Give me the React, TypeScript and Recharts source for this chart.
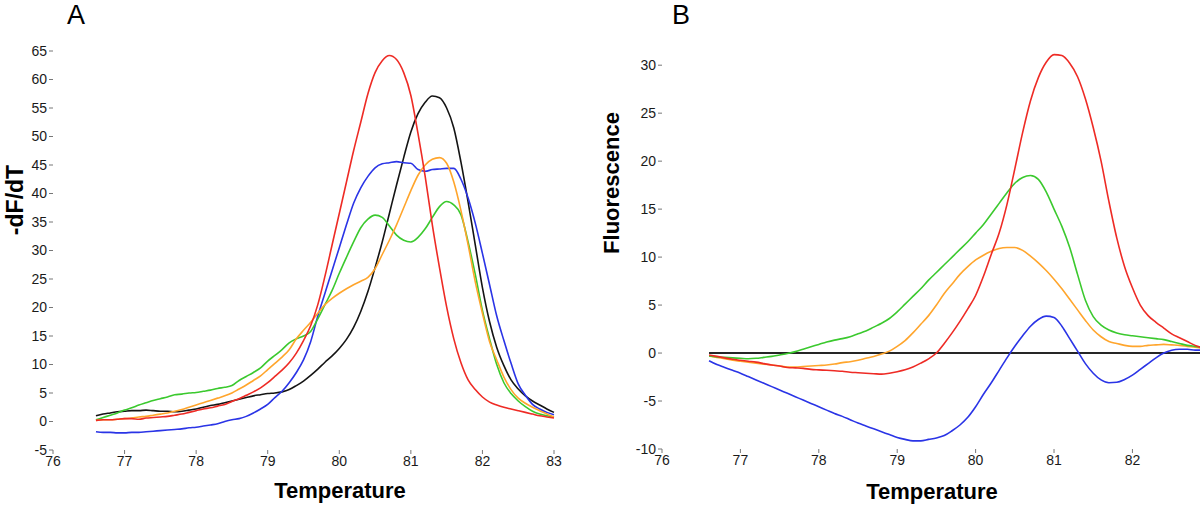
import React from 'react';
import { LineChart, Line, XAxis, YAxis } from 'recharts';

// Panel A: melting curves (-dF/dT), temperatures 76.6 .. 83.0 step 0.1
const tempsA = [
  76.6, 76.7, 76.8, 76.9, 77.0, 77.1, 77.2, 77.3, 77.4, 77.5, 77.6, 77.7, 77.8, 77.9,
  78.0, 78.1, 78.2, 78.3, 78.4, 78.5, 78.6, 78.7, 78.8, 78.9, 79.0, 79.1, 79.2, 79.3,
  79.4, 79.5, 79.6, 79.7, 79.8, 79.9, 80.0, 80.1, 80.2, 80.3, 80.4, 80.5, 80.6, 80.7,
  80.8, 80.9, 81.0, 81.1, 81.2, 81.3, 81.4, 81.5, 81.6, 81.7, 81.8, 81.9, 82.0, 82.1,
  82.2, 82.3, 82.4, 82.5, 82.6, 82.7, 82.8, 82.9, 83.0,
];

const redA = [
  0.2, 0.3, 0.3, 0.4, 0.5, 0.5, 0.4, 0.6, 0.7, 0.8, 0.9, 1.1, 1.3, 1.6,
  1.9, 2.2, 2.4, 2.7, 3.0, 3.5, 4.0, 4.6, 5.2, 5.9, 6.8, 7.9, 9.0, 10.3,
  12.0, 14.2, 16.8, 20.5, 25.5, 31.0, 36.5, 42.0, 47.5, 52.5, 57.5, 61.2, 63.3, 64.2,
  63.5, 61.2, 57.2, 50.5, 43.0, 34.5, 27.0, 20.1, 14.5, 10.3, 7.3, 5.6, 4.3, 3.4,
  2.9, 2.5, 2.2, 1.9, 1.6, 1.3, 1.0, 0.8, 0.6,
];

const blackA = [
  1.0, 1.3, 1.5, 1.7, 1.8, 1.9, 1.9, 2.0, 1.9, 1.8, 1.8, 1.7, 1.8, 2.0,
  2.2, 2.5, 2.8, 3.0, 3.3, 3.6, 3.9, 4.2, 4.5, 4.7, 4.9, 5.0, 5.2, 5.6,
  6.3, 7.1, 8.1, 9.2, 10.4, 11.5, 12.8, 14.4, 16.5, 19.3, 22.8, 27.0, 31.5, 36.5,
  41.5, 46.3, 50.8, 54.0, 56.0, 57.1, 56.8, 55.0, 51.5, 45.5, 38.5, 31.0, 23.5, 17.5,
  13.0, 9.8, 7.3, 5.7, 4.5, 3.6, 2.9, 2.2, 1.6,
];

const greenA = [
  0.3, 0.7, 1.1, 1.5, 2.0, 2.4, 2.9, 3.3, 3.7, 4.0, 4.3, 4.7, 4.8, 5.0,
  5.1, 5.3, 5.5, 5.8, 6.0, 6.3, 7.2, 7.9, 8.6, 9.4, 10.6, 11.6, 12.6, 13.8,
  14.5, 15.0, 15.8, 18.0, 20.5, 23.0, 26.0, 28.8, 31.5, 34.0, 35.5, 36.2, 35.8, 34.3,
  32.7, 31.8, 31.5, 32.3, 33.8, 35.8, 37.7, 38.6, 38.0, 36.3, 31.5, 25.8, 19.5, 14.5,
  10.0, 6.8, 4.9, 3.6, 2.6, 1.8, 1.3, 1.0, 0.8,
];

const orangeA = [
  0.2, 0.3, 0.3, 0.4, 0.5, 0.6, 0.8, 0.9, 1.1, 1.3, 1.5, 1.8, 2.1, 2.5,
  2.9, 3.3, 3.7, 4.1, 4.5, 5.0, 5.7, 6.4, 7.2, 8.0, 9.1, 10.2, 11.3, 12.6,
  14.5, 16.0, 17.4, 19.0, 20.5, 21.6, 22.5, 23.3, 24.0, 24.6, 25.3, 26.8, 29.3, 31.8,
  34.5, 37.5, 40.5, 43.2, 45.0, 46.0, 46.3, 45.3, 42.0, 37.0, 31.0, 24.5, 19.0, 14.0,
  10.8, 7.8, 5.6, 4.1, 3.2, 2.5, 1.9, 1.3, 0.8,
];

const blueA = [
  -1.8, -1.9, -1.9, -2.0, -2.0, -1.9, -1.9, -1.8, -1.7, -1.6, -1.5, -1.4, -1.3, -1.1,
  -1.0, -0.8, -0.6, -0.4, 0.0, 0.3, 0.5, 0.9, 1.5, 2.2, 3.0, 4.2, 5.3, 6.8,
  8.6, 10.8, 14.0, 18.5, 22.5, 26.5, 30.5, 34.5, 38.3, 41.0, 43.0, 44.5, 45.2, 45.4,
  45.6, 45.4, 45.3, 44.2, 43.9, 44.2, 44.3, 44.4, 44.4, 42.5, 39.2, 34.8, 29.5, 24.0,
  18.5, 14.2, 10.2, 6.6, 4.6, 3.0, 2.2, 1.6, 1.2,
];

// Panel B: difference curves (Fluorescence), temperatures 76.6 .. 82.9 step 0.1
const tempsB = tempsA.slice(0, 64);

const redB = [
  -0.2, -0.35, -0.5, -0.65, -0.75, -0.85, -0.95, -1.1, -1.25, -1.35, -1.5, -1.55, -1.6, -1.7,
  -1.75, -1.8, -1.85, -1.9, -2.0, -2.05, -2.1, -2.15, -2.2, -2.1, -1.95, -1.75, -1.45, -1.05,
  -0.6, 0.0, 1.0, 2.1, 3.3, 4.6, 6.0, 8.0, 10.3, 12.5, 15.5, 19.2, 23.0, 26.3,
  28.7, 30.3, 31.1, 31.0, 30.2, 28.8, 26.5, 23.5, 20.0, 15.8, 12.0, 9.0, 6.8, 5.0,
  3.9, 3.2, 2.6, 2.0, 1.6, 1.2, 0.8, 0.5,
];

const greenB = [
  -0.3, -0.4, -0.45, -0.5, -0.55, -0.6, -0.55, -0.45, -0.35, -0.2, -0.05, 0.15, 0.4, 0.65,
  0.9, 1.15, 1.35, 1.5, 1.7, 2.0, 2.3, 2.7, 3.1, 3.6, 4.3, 5.1, 5.9, 6.7,
  7.6, 8.4, 9.2, 10.0, 10.8, 11.6, 12.5, 13.4, 14.5, 15.6, 16.7, 17.7, 18.3, 18.5,
  18.1, 16.8, 15.0, 13.2, 11.0, 8.2, 5.5, 3.8, 2.9, 2.4, 2.1, 1.9, 1.8, 1.7,
  1.6, 1.5, 1.4, 1.2, 1.0, 0.8, 0.7, 0.6,
];

const orangeB = [
  -0.3, -0.45, -0.6, -0.75, -0.85, -0.95, -1.05, -1.15, -1.25, -1.35, -1.45, -1.45, -1.4, -1.35,
  -1.3, -1.25, -1.15, -1.0, -0.9, -0.75, -0.55, -0.35, -0.1, 0.2, 0.7, 1.3, 2.1, 3.0,
  3.9, 5.0, 6.2, 7.2, 8.2, 9.0, 9.7, 10.2, 10.6, 10.9, 11.0, 11.0, 10.7, 10.1,
  9.4, 8.6, 7.7, 6.7, 5.6, 4.5, 3.4, 2.4, 1.7, 1.2, 1.0, 0.8, 0.7, 0.7,
  0.8, 0.85, 0.9, 0.85, 0.8, 0.7, 0.6, 0.5,
];

const blueB = [
  -0.8, -1.2, -1.5, -1.8, -2.1, -2.45, -2.8, -3.15, -3.5, -3.85, -4.2, -4.55, -4.9, -5.25,
  -5.6, -5.95, -6.3, -6.6, -6.95, -7.3, -7.6, -7.9, -8.2, -8.5, -8.8, -9.0, -9.15, -9.15,
  -9.0, -8.85, -8.6, -8.1, -7.5, -6.7, -5.6, -4.3, -3.1, -1.8, -0.5, 0.7, 1.8, 2.8,
  3.5, 3.85, 3.7, 2.8, 1.5, 0.2, -1.1, -2.1, -2.8, -3.1, -3.05, -2.75, -2.3, -1.7,
  -1.1, -0.5, 0.0, 0.3, 0.4, 0.4, 0.3, 0.3,
];

const blackB = tempsB.map(() => 0);

const xTicksA = [76, 77, 78, 79, 80, 81, 82, 83];
const yTicksA = [-5, 0, 5, 10, 15, 20, 25, 30, 35, 40, 45, 50, 55, 60, 65];
const xTicksB = [76, 77, 78, 79, 80, 81, 82];
const yTicksB = [-10, -5, 0, 5, 10, 15, 20, 25, 30];

const dataA = tempsA.map((t, i) => ({
  t,
  red: redA[i],
  black: blackA[i],
  green: greenA[i],
  orange: orangeA[i],
  blue: blueA[i],
}));

const dataB = tempsB.map((t, i) => ({
  t,
  red: redB[i],
  black: blackB[i],
  green: greenB[i],
  orange: orangeB[i],
  blue: blueB[i],
}));

const RED = '#ee2b25';
const BLUE = '#2a34e6';
const GREEN = '#3bc92e';
const ORANGE = '#ffa52c';
const BLACK = '#141414';

const FONT = '"Liberation Sans", Arial, sans-serif';
const tickStyle = { fontFamily: FONT, fontSize: 14, fill: '#1a1a1a' };

const abs = (left: number, top: number, extra: React.CSSProperties = {}): React.CSSProperties => ({
  position: 'absolute',
  left,
  top,
  fontFamily: FONT,
  color: '#000',
  whiteSpace: 'nowrap',
  lineHeight: 1,
  ...extra,
});

const axisTitle: React.CSSProperties = { fontWeight: 'bold', fontSize: 22 };

export default function App() {
  return (
    <div
      style={{
        position: 'absolute',
        left: 0,
        top: 0,
        width: 1200,
        height: 505,
        overflow: 'hidden',
        background: '#fff',
      }}
    >
      {/* panel A */}
      <div style={{ position: 'absolute', left: 0, top: 0 }}>
        <LineChart width={600} height={505} data={dataA} margin={{ top: 51, right: 46, bottom: 0, left: 0 }}>
          <XAxis
            dataKey="t"
            type="number"
            domain={[76, 83]}
            ticks={xTicksA}
            interval={0}
            height={55}
            axisLine={false}
            tickSize={4}
            tickLine={{ stroke: '#777' }}
            tick={tickStyle}
          />
          <YAxis
            type="number"
            domain={[-5, 65]}
            ticks={yTicksA}
            interval={0}
            width={53}
            axisLine={false}
            tickSize={4}
            tickLine={{ stroke: '#777' }}
            tick={tickStyle}
          />
          <Line type="monotone" dataKey="black" stroke={BLACK} strokeWidth={1.6} dot={false} isAnimationActive={false} />
          <Line type="monotone" dataKey="blue" stroke={BLUE} strokeWidth={1.6} dot={false} isAnimationActive={false} />
          <Line type="monotone" dataKey="green" stroke={GREEN} strokeWidth={1.6} dot={false} isAnimationActive={false} />
          <Line type="monotone" dataKey="orange" stroke={ORANGE} strokeWidth={1.6} dot={false} isAnimationActive={false} />
          <Line type="monotone" dataKey="red" stroke={RED} strokeWidth={1.6} dot={false} isAnimationActive={false} />
        </LineChart>
      </div>

      {/* panel B */}
      <div style={{ position: 'absolute', left: 600, top: 0 }}>
        <LineChart width={603} height={505} data={dataB} margin={{ top: 46, right: 0, bottom: 0, left: 0 }}>
          <XAxis
            dataKey="t"
            type="number"
            domain={[76, 82.9]}
            ticks={xTicksB}
            interval={0}
            height={56}
            axisLine={false}
            tickSize={4}
            tickLine={{ stroke: '#777' }}
            tick={tickStyle}
          />
          <YAxis
            type="number"
            domain={[-10, 32]}
            ticks={yTicksB}
            interval={0}
            width={62}
            axisLine={false}
            tickSize={4}
            tickLine={{ stroke: '#777' }}
            tick={tickStyle}
          />
          <Line type="linear" dataKey="black" stroke="#262626" strokeWidth={2} dot={false} isAnimationActive={false} />
          <Line type="monotone" dataKey="blue" stroke={BLUE} strokeWidth={1.6} dot={false} isAnimationActive={false} />
          <Line type="monotone" dataKey="orange" stroke={ORANGE} strokeWidth={1.6} dot={false} isAnimationActive={false} />
          <Line type="monotone" dataKey="green" stroke={GREEN} strokeWidth={1.6} dot={false} isAnimationActive={false} />
          <Line type="monotone" dataKey="red" stroke={RED} strokeWidth={1.6} dot={false} isAnimationActive={false} />
        </LineChart>
      </div>

      {/* panel letters and axis titles */}
      <div style={abs(67, 2, { fontSize: 27 })}>A</div>
      <div style={abs(672, 2, { fontSize: 27 })}>B</div>

      <div style={abs(340, 491, { ...axisTitle, transform: 'translate(-50%, -50%)' })}>Temperature</div>
      <div style={abs(932, 492, { ...axisTitle, transform: 'translate(-50%, -50%)' })}>Temperature</div>

      <div style={abs(15, 200, { ...axisTitle, fontSize: 23, transform: 'translate(-50%, -50%) rotate(-90deg)' })}>
        -dF/dT
      </div>
      <div style={abs(612, 183, { ...axisTitle, transform: 'translate(-50%, -50%) rotate(-90deg)' })}>
        Fluorescence
      </div>
    </div>
  );
}
